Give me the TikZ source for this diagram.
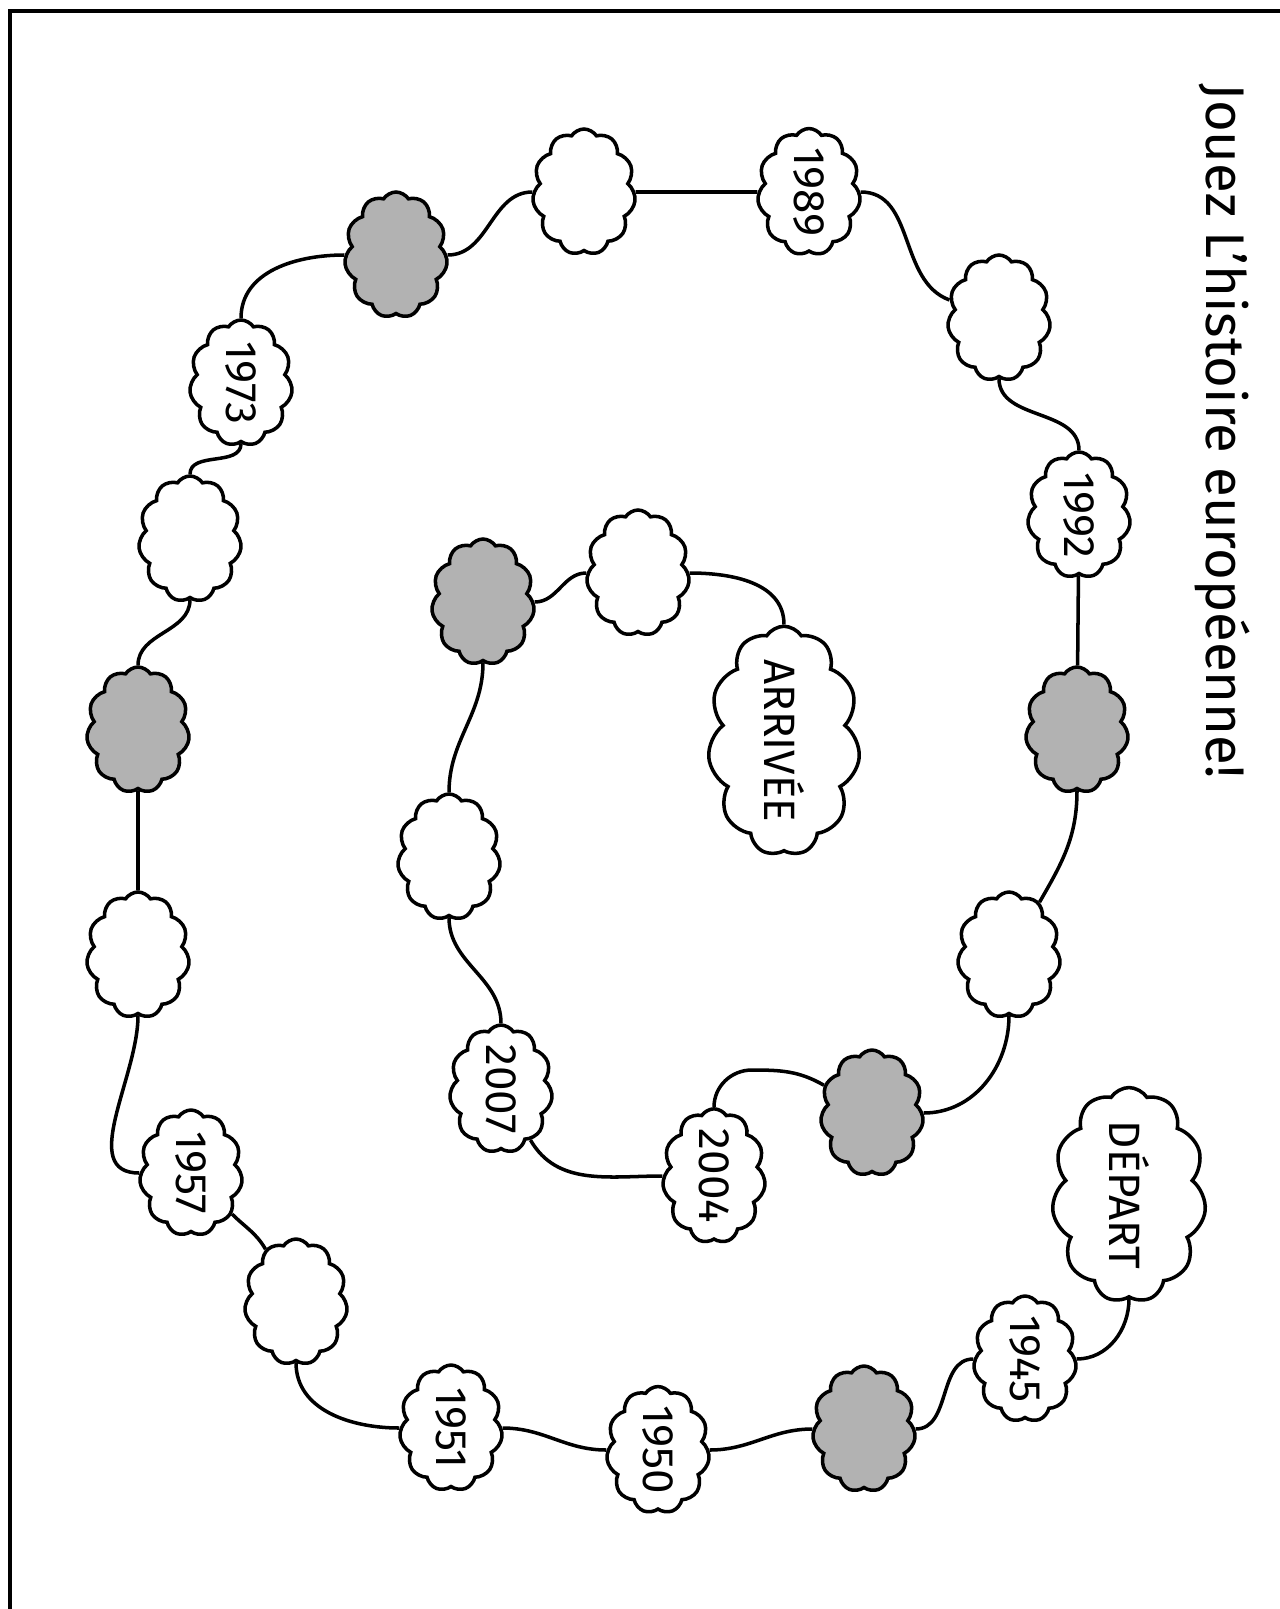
\documentclass[tikz,border=0pt]{standalone}
\usepackage{graphicx}
\usepackage{fontspec}
\setmainfont{Fira Sans}
\usetikzlibrary{shapes.symbols}
\definecolor{tilegray}{gray}{0.7}
\newcommand{\sideways}[1]{\rotatebox{-90}{#1}}
\tikzset{
  cloudbox/.style={cloud, cloud puffs=11, cloud puff arc=115, cloud ignores aspect,
    draw, line width=2pt, fill=white, inner sep=0pt,
    minimum width=2.06cm, minimum height=2.52cm, font=\fontsize{25}{28}\selectfont},
  greybox/.style={cloudbox, fill=tilegray},
  bigbox/.style={cloudbox, minimum width=3.08cm, minimum height=4.3cm},
  link/.style={line width=2pt},
}

\begin{document}
\begin{tikzpicture}[x=0.02cm, y=0.02cm]
  \useasboundingbox (0,0) rectangle (1280,-1609);
  % frame
  \draw[line width=2.3pt] (10,-1609) -- (10,-11) -- (1280,-11);

  \node[rotate=-90, font=\fontsize{31}{34}\selectfont] (title) at (1222,-431) {Jouez L'histoire européenne!};

  % outer loop
  \node[bigbox] (dep) at (1129,-1195) {\sideways{DÉPART}};
  \node[cloudbox] (y45) at (1025,-1359) {\sideways{1945}};
  \node[greybox] (g1) at (864,-1429) {};
  \node[cloudbox] (y50) at (658,-1450) {\sideways{1950}};
  \node[cloudbox] (y51) at (451,-1428) {\sideways{1951}};
  \node[cloudbox] (w1) at (296,-1302) {};
  \node[cloudbox] (y57) at (191,-1173) {\sideways{1957}};
  \node[cloudbox] (w2) at (138,-955) {};
  \node[greybox] (g2) at (138,-730) {};
  \node[cloudbox] (w3) at (190,-539) {};
  \node[cloudbox] (y73) at (241,-383) {\sideways{1973}};
  \node[greybox] (g3) at (396,-255) {};
  \node[cloudbox] (w4) at (584,-192) {};
  \node[cloudbox] (y89) at (809,-192) {\sideways{1989}};
  \node[cloudbox] (w5) at (999,-318) {};
  \node[cloudbox] (y92) at (1079,-515) {\sideways{1992}};
  \node[greybox] (g4) at (1077,-730) {};
  \node[cloudbox] (w6) at (1009,-955) {};
  \node[greybox] (g5) at (872,-1113) {};
  % inner loop
  \node[cloudbox] (y04) at (714,-1176) {\sideways{2004}};
  \node[cloudbox] (y07) at (501,-1089) {\sideways{2007}};
  \node[cloudbox] (w7) at (449,-857) {};
  \node[greybox] (g6) at (483,-602) {};
  \node[cloudbox] (w8) at (638,-573) {};
  \node[bigbox, minimum width=3.04cm, minimum height=4.1cm] (arr) at (784,-741) {\sideways{ARRIVÉE}};
  \coordinate (bend) at (752,-1070);

  \draw[link] (dep) to[out=-90,in=0] (y45);
  \draw[link] (y45) to[out=180,in=0] (g1);
  \draw[link] (g1) to[out=180,in=0] (y50);
  \draw[link] (y50) to[out=180,in=0] (y51);
  \draw[link] (y51) to[out=180,in=-90] (w1);
  \draw[link] (w1) to[out=120,in=-45] (y57);
  \draw[link] (y57) to[out=180,in=-90] (w2);
  \draw[link] (w2) -- (g2);
  \draw[link] (g2) to[out=90,in=-90] (w3);
  \draw[link] (w3) to[out=90,in=-90] (y73);
  \draw[link] (y73) to[out=90,in=180] (g3);
  \draw[link] (g3) to[out=0,in=180] (w4);
  \draw[link] (w4) -- (y89);
  \draw[link] (y89) to[out=0,in=160] (w5);
  \draw[link] (w5) to[out=-90,in=90] (y92);
  \draw[link] (y92) -- (g4);
  \draw[link] (g4) to[out=-90,in=60] (w6);
  \draw[link] (w6) to[out=-90,in=0] (g5);
  \draw[link] (g5) to[out=150,in=0] (bend) to[out=180,in=90] (y04);
  \draw[link] (y04) to[out=180,in=-60] (y07);
  \draw[link] (y07) to[out=90,in=-90] (w7);
  \draw[link] (w7) to[out=90,in=-90] (g6);
  \draw[link] (g6) to[out=0,in=180] (w8);
  \draw[link] (w8) to[out=0,in=90] (arr);
\end{tikzpicture}
\end{document}
